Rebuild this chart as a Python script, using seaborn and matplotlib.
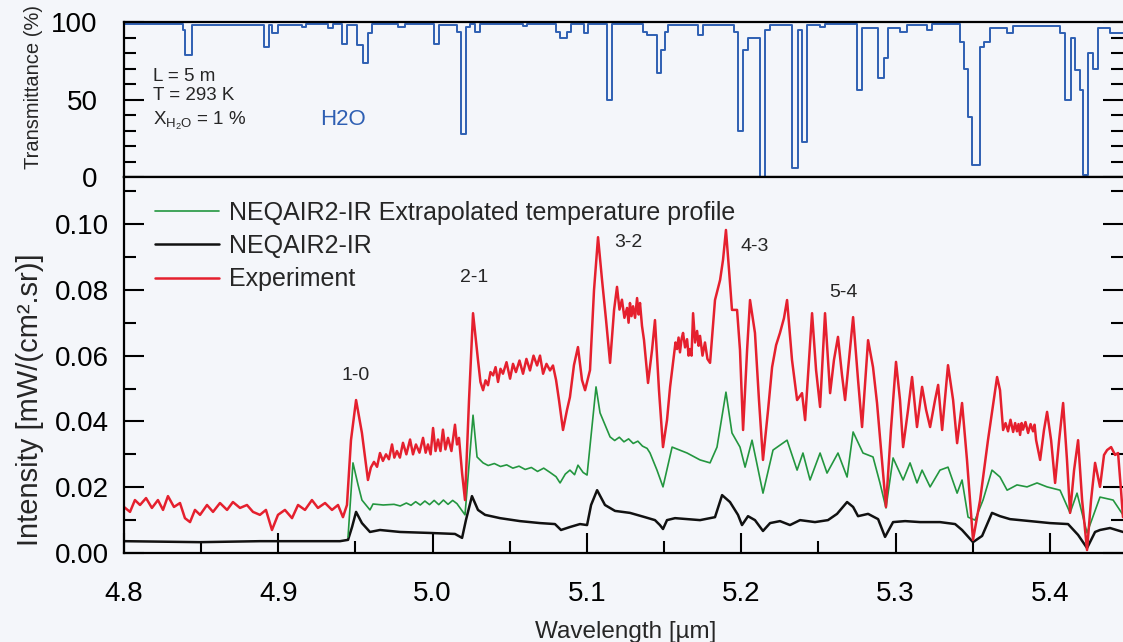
"""Emission spectrum of the CO fundamental band against H2O transmittance."""

import matplotlib

matplotlib.use("Agg")
import matplotlib.pyplot as plt
import pandas as pd
import seaborn as sns
from matplotlib.lines import Line2D
from matplotlib.ticker import FormatStrFormatter, MultipleLocator

# H2O transmittance, drawn as a step profile: left edge of each step [um], value [%]
h2o_wavelength = [
    4.8000, 4.8382, 4.8395, 4.8441, 4.8907, 4.8940, 4.8959, 4.8998, 4.9154, 4.9180,
    4.9322, 4.9355, 4.9413, 4.9445, 4.9510, 4.9549, 4.9581, 4.9607, 4.9776, 4.9821,
    5.0009, 5.0041, 5.0158, 5.0184, 5.0216, 5.0242, 5.0275, 5.0307, 5.0586, 5.0612,
    5.0800, 5.0826, 5.0871, 5.0897, 5.0981, 5.1007, 5.1130, 5.1163, 5.1364, 5.1390,
    5.1454, 5.1480, 5.1506, 5.1526, 5.1720, 5.1752, 5.1953, 5.1979, 5.2012, 5.2044,
    5.2122, 5.2154, 5.2187, 5.2329, 5.2368, 5.2394, 5.2426, 5.2511, 5.2543, 5.2750,
    5.2783, 5.2887, 5.2925, 5.2951, 5.3029, 5.3075, 5.3204, 5.3237, 5.3418, 5.3444,
    5.3470, 5.3496, 5.3548, 5.3574, 5.3612, 5.3723, 5.3762, 5.4066, 5.4099, 5.4137,
    5.4163, 5.4196, 5.4215, 5.4248, 5.4280, 5.4312, 5.4390, 5.4474,
]
h2o_transmittance = [
    98.5, 95, 79, 98, 84, 98, 93, 98, 97, 98.5,
    96, 98.5, 86, 98, 85, 73.5, 93, 98.5, 97, 98.5,
    86, 98, 93.5, 28, 97, 98.5, 93.5, 98.5, 97.5, 98.5,
    93.5, 89.7, 93.5, 98.5, 93, 98.5, 50, 98.5, 93.5, 91.6,
    67, 82, 93.5, 98, 91.6, 98, 93.5, 30, 82, 90,
    0, 95, 98, 6, 95, 22.6, 98, 97, 98.5, 56,
    96, 64, 77, 96, 93.5, 98, 95, 98.5, 87, 70,
    39, 7.7, 84, 87, 96, 93, 97.5, 93, 50, 90,
    69, 56, 1.3, 80, 70, 96, 93, 93,
]

# NEQAIR2-IR simulation [mW/(cm2.sr)]
neqair_wavelength = [
    4.8000, 4.8493, 4.8881, 4.9400, 4.9452, 4.9478, 4.9504, 4.9542, 4.9594, 4.9659,
    4.9789, 4.9983, 5.0145, 5.0191, 5.0216, 5.0255, 5.0294, 5.0340, 5.0437, 5.0566,
    5.0696, 5.0793, 5.0832, 5.0890, 5.0955, 5.1001, 5.1027, 5.1066, 5.1117, 5.1182,
    5.1279, 5.1376, 5.1441, 5.1473, 5.1493, 5.1519, 5.1571, 5.1733, 5.1830, 5.1876,
    5.1927, 5.1979, 5.2005, 5.2044, 5.2089, 5.2141, 5.2187, 5.2251, 5.2316, 5.2381,
    5.2478, 5.2562, 5.2621, 5.2686, 5.2725, 5.2757, 5.2822, 5.2887, 5.2932, 5.2984,
    5.3062, 5.3159, 5.3288, 5.3386, 5.3431, 5.3502, 5.3561, 5.3625, 5.3677, 5.3742,
    5.3872, 5.4001, 5.4118, 5.4183, 5.4241, 5.4293, 5.4325, 5.4390, 5.4474,
]
neqair_intensity = [
    0.0036, 0.0033, 0.0036, 0.0036, 0.0040, 0.0079, 0.0125, 0.0091, 0.0064, 0.0070,
    0.0064, 0.0061, 0.0058, 0.0046, 0.0100, 0.0173, 0.0131, 0.0116, 0.0106, 0.0097,
    0.0091, 0.0088, 0.0070, 0.0079, 0.0088, 0.0085, 0.0146, 0.0191, 0.0146, 0.0128,
    0.0122, 0.0109, 0.0100, 0.0085, 0.0073, 0.0100, 0.0106, 0.0100, 0.0109, 0.0176,
    0.0155, 0.0116, 0.0085, 0.0112, 0.0100, 0.0067, 0.0091, 0.0097, 0.0085, 0.0100,
    0.0094, 0.0100, 0.0119, 0.0155, 0.0140, 0.0112, 0.0119, 0.0103, 0.0049, 0.0094,
    0.0097, 0.0094, 0.0094, 0.0088, 0.0070, 0.0033, 0.0052, 0.0122, 0.0112, 0.0103,
    0.0097, 0.0091, 0.0088, 0.0055, 0.0015, 0.0064, 0.0070, 0.0076, 0.0064,
]

# NEQAIR2-IR with extrapolated temperature profile
extrap_wavelength = [
    4.9452, 4.9484, 4.9517, 4.9542, 4.9594, 4.9614, 4.9680, 4.9750, 4.9790, 4.9830,
    4.9860, 4.9890, 4.9920, 4.9950, 4.9980, 5.0010, 5.0040, 5.0070, 5.0100, 5.0130,
    5.0158, 5.0210, 5.0262, 5.0288, 5.0327, 5.0360, 5.0400, 5.0440, 5.0480, 5.0520,
    5.0560, 5.0600, 5.0640, 5.0680, 5.0720, 5.0761, 5.0800, 5.0826, 5.0860, 5.0890,
    5.0920, 5.0942, 5.0975, 5.1001, 5.1059, 5.1085, 5.1150, 5.1180, 5.1210, 5.1240,
    5.1270, 5.1300, 5.1330, 5.1360, 5.1390, 5.1409, 5.1454, 5.1493, 5.1552, 5.1649,
    5.1733, 5.1798, 5.1843, 5.1901, 5.1940, 5.1992, 5.2025, 5.2070, 5.2141, 5.2206,
    5.2297, 5.2362, 5.2400, 5.2446, 5.2511, 5.2556, 5.2627, 5.2686, 5.2725, 5.2789,
    5.2854, 5.2899, 5.2938, 5.2984, 5.3049, 5.3094, 5.3139, 5.3172, 5.3224, 5.3288,
    5.3340, 5.3399, 5.3431, 5.3470, 5.3515, 5.3567, 5.3625, 5.3677, 5.3723, 5.3787,
    5.3852, 5.3917, 5.3982, 5.4066, 5.4131, 5.4176, 5.4241, 5.4325, 5.4410, 5.4474,
]
extrap_intensity = [
    0.0049, 0.0274, 0.0207, 0.0161, 0.0131, 0.0149, 0.0146, 0.0148, 0.0143, 0.0152,
    0.0145, 0.0156, 0.0146, 0.0158, 0.0147, 0.0160, 0.0147, 0.0161, 0.0148, 0.0160,
    0.0150, 0.0116, 0.0419, 0.0292, 0.0274, 0.0266, 0.0272, 0.0263, 0.0268, 0.0258,
    0.0264, 0.0254, 0.0260, 0.0248, 0.0258, 0.0245, 0.0232, 0.0213, 0.0240, 0.0252,
    0.0238, 0.0267, 0.0245, 0.0237, 0.0505, 0.0426, 0.0353, 0.0342, 0.0352, 0.0338,
    0.0347, 0.0333, 0.0340, 0.0325, 0.0318, 0.0304, 0.0252, 0.0201, 0.0322, 0.0304,
    0.0283, 0.0274, 0.0322, 0.0489, 0.0365, 0.0322, 0.0261, 0.0343, 0.0182, 0.0313,
    0.0343, 0.0252, 0.0304, 0.0222, 0.0304, 0.0243, 0.0304, 0.0231, 0.0368, 0.0304,
    0.0292, 0.0213, 0.0137, 0.0289, 0.0222, 0.0274, 0.0213, 0.0252, 0.0201, 0.0252,
    0.0261, 0.0182, 0.0222, 0.0109, 0.0100, 0.0161, 0.0252, 0.0231, 0.0191, 0.0207,
    0.0201, 0.0213, 0.0201, 0.0191, 0.0122, 0.0182, 0.0061, 0.0170, 0.0161, 0.0116,
]

# Experiment
exp_wavelength = [
    4.8000, 4.8039, 4.8071, 4.8104, 4.8143, 4.8181, 4.8220, 4.8253, 4.8285, 4.8324,
    4.8363, 4.8395, 4.8428, 4.8460, 4.8493, 4.8538, 4.8577, 4.8622, 4.8668, 4.8706,
    4.8752, 4.8797, 4.8836, 4.8881, 4.8920, 4.8959, 4.8998, 4.9043, 4.9089, 4.9128,
    4.9173, 4.9218, 4.9257, 4.9303, 4.9348, 4.9387, 4.9419, 4.9445, 4.9471, 4.9504,
    4.9542, 4.9581, 4.9600, 4.9620, 4.9640, 4.9659, 4.9678, 4.9698, 4.9717, 4.9737,
    4.9752, 4.9769, 4.9788, 4.9808, 4.9830, 4.9854, 4.9873, 4.9892, 4.9915, 4.9938,
    4.9955, 4.9970, 4.9987, 5.0003, 5.0019, 5.0035, 5.0051, 5.0067, 5.0083, 5.0100,
    5.0122, 5.0145, 5.0158, 5.0171, 5.0191, 5.0210, 5.0236, 5.0262, 5.0294, 5.0310,
    5.0327, 5.0343, 5.0359, 5.0375, 5.0392, 5.0408, 5.0424, 5.0440, 5.0456, 5.0479,
    5.0502, 5.0521, 5.0540, 5.0563, 5.0586, 5.0608, 5.0631, 5.0654, 5.0677, 5.0696,
    5.0716, 5.0738, 5.0761, 5.0780, 5.0800, 5.0819, 5.0845, 5.0871, 5.0890, 5.0916,
    5.0942, 5.0968, 5.0988, 5.1020, 5.1046, 5.1072, 5.1098, 5.1124, 5.1150, 5.1176,
    5.1195, 5.1211, 5.1227, 5.1243, 5.1260, 5.1270, 5.1279, 5.1289, 5.1299, 5.1312,
    5.1325, 5.1335, 5.1344, 5.1357, 5.1370, 5.1396, 5.1422, 5.1441, 5.1467, 5.1493,
    5.1519, 5.1539, 5.1564, 5.1574, 5.1584, 5.1594, 5.1603, 5.1613, 5.1623, 5.1636,
    5.1649, 5.1659, 5.1668, 5.1678, 5.1688, 5.1701, 5.1714, 5.1724, 5.1733, 5.1749,
    5.1765, 5.1781, 5.1798, 5.1830, 5.1863, 5.1882, 5.1901, 5.1921, 5.1940, 5.1973,
    5.1992, 5.2012, 5.2038, 5.2057, 5.2089, 5.2115, 5.2141, 5.2174, 5.2200, 5.2226,
    5.2251, 5.2277, 5.2297, 5.2329, 5.2362, 5.2394, 5.2414, 5.2459, 5.2485, 5.2511,
    5.2543, 5.2576, 5.2601, 5.2627, 5.2653, 5.2673, 5.2725, 5.2757, 5.2783, 5.2822,
    5.2854, 5.2880, 5.2938, 5.2970, 5.3003, 5.3029, 5.3049, 5.3081, 5.3107, 5.3139,
    5.3172, 5.3198, 5.3224, 5.3256, 5.3276, 5.3302, 5.3340, 5.3373, 5.3399, 5.3431,
    5.3463, 5.3502, 5.3548, 5.3599, 5.3658, 5.3677, 5.3697, 5.3713, 5.3729, 5.3745,
    5.3762, 5.3775, 5.3787, 5.3797, 5.3807, 5.3817, 5.3826, 5.3842, 5.3859, 5.3875,
    5.3891, 5.3901, 5.3911, 5.3937, 5.3962, 5.3982, 5.4008, 5.4034, 5.4060, 5.4086,
    5.4111, 5.4131, 5.4157, 5.4183, 5.4209, 5.4241, 5.4267, 5.4293, 5.4325, 5.4351,
    5.4371, 5.4397, 5.4423, 5.4442, 5.4461, 5.4474,
]
exp_intensity = [
    0.0140, 0.0125, 0.0161, 0.0146, 0.0167, 0.0137, 0.0161, 0.0131, 0.0173, 0.0140,
    0.0152, 0.0106, 0.0094, 0.0131, 0.0116, 0.0146, 0.0125, 0.0152, 0.0131, 0.0155,
    0.0137, 0.0146, 0.0125, 0.0116, 0.0131, 0.0070, 0.0116, 0.0131, 0.0106, 0.0146,
    0.0131, 0.0161, 0.0137, 0.0152, 0.0131, 0.0146, 0.0109, 0.0146, 0.0343, 0.0465,
    0.0365, 0.0222, 0.0260, 0.0277, 0.0262, 0.0304, 0.0280, 0.0300, 0.0285, 0.0330,
    0.0290, 0.0310, 0.0290, 0.0335, 0.0300, 0.0345, 0.0300, 0.0330, 0.0305, 0.0350,
    0.0305, 0.0330, 0.0300, 0.0380, 0.0310, 0.0345, 0.0310, 0.0375, 0.0315, 0.0350,
    0.0310, 0.0390, 0.0330, 0.0350, 0.0243, 0.0161, 0.0465, 0.0729, 0.0587, 0.0520,
    0.0495, 0.0525, 0.0510, 0.0550, 0.0540, 0.0565, 0.0520, 0.0560, 0.0545, 0.0580,
    0.0530, 0.0575, 0.0550, 0.0585, 0.0545, 0.0590, 0.0555, 0.0600, 0.0570, 0.0600,
    0.0545, 0.0575, 0.0555, 0.0570, 0.0526, 0.0465, 0.0374, 0.0435, 0.0474, 0.0571,
    0.0626, 0.0526, 0.0495, 0.0556, 0.0799, 0.0960, 0.0830, 0.0708, 0.0578, 0.0739,
    0.0809, 0.0740, 0.0770, 0.0715, 0.0745, 0.0700, 0.0760, 0.0720, 0.0750, 0.0715,
    0.0775, 0.0725, 0.0760, 0.0690, 0.0647, 0.0517, 0.0617, 0.0708, 0.0495, 0.0322,
    0.0404, 0.0505, 0.0602, 0.0640, 0.0620, 0.0655, 0.0610, 0.0650, 0.0669, 0.0625,
    0.0650, 0.0600, 0.0620, 0.0600, 0.0729, 0.0640, 0.0675, 0.0630, 0.0660, 0.0600,
    0.0640, 0.0590, 0.0578, 0.0769, 0.0830, 0.0891, 0.0982, 0.0860, 0.0739, 0.0739,
    0.0617, 0.0374, 0.0617, 0.0769, 0.0669, 0.0465, 0.0283, 0.0435, 0.0565, 0.0632,
    0.0669, 0.0714, 0.0769, 0.0587, 0.0465, 0.0486, 0.0404, 0.0729, 0.0556, 0.0444,
    0.0729, 0.0486, 0.0587, 0.0657, 0.0541, 0.0465, 0.0717, 0.0526, 0.0383, 0.0647,
    0.0565, 0.0456, 0.0140, 0.0374, 0.0581, 0.0465, 0.0322, 0.0435, 0.0535, 0.0383,
    0.0505, 0.0435, 0.0383, 0.0465, 0.0511, 0.0374, 0.0571, 0.0465, 0.0334, 0.0456,
    0.0283, 0.0040, 0.0161, 0.0343, 0.0535, 0.0495, 0.0374, 0.0395, 0.0370, 0.0405,
    0.0368, 0.0395, 0.0370, 0.0392, 0.0359, 0.0395, 0.0375, 0.0398, 0.0365, 0.0392,
    0.0370, 0.0390, 0.0343, 0.0283, 0.0374, 0.0429, 0.0343, 0.0213, 0.0343, 0.0456,
    0.0283, 0.0122, 0.0252, 0.0343, 0.0161, 0.0009, 0.0161, 0.0274, 0.0201, 0.0298,
    0.0313, 0.0322, 0.0298, 0.0304, 0.0191, 0.0109,
]

band_labels = ["1-0", "2-1", "3-2", "4-3", "5-4"]
band_label_x = [4.9504, 5.0272, 5.1266, 5.2089, 5.2660]
band_label_y = [0.0541, 0.0836, 0.0944, 0.0933, 0.0792]

PAPER = "#f4f6fa"
RED = "#e5202e"
GREEN = "#23963f"
BLACK = "#111111"
BLUE = "#2e5fb3"
X_RANGE = (4.8, 5.4474)


def _style_axes(ax):
    ax.set_facecolor(PAPER)
    for side in ("left", "top", "bottom"):
        ax.spines[side].set_linewidth(1.6)
        ax.spines[side].set_color("black")
    ax.spines["right"].set_visible(False)
    ax.tick_params(which="both", direction="in", width=1.5, colors="black",
                   labelsize=20, right=True)
    ax.tick_params(which="major", length=14.5)
    ax.tick_params(which="minor", length=8.5)
    ax.set_xlim(*X_RANGE)


def main():
    sns.set_style("ticks")
    plt.rcParams["font.family"] = ["Liberation Sans", "DejaVu Sans"]
    plt.rcParams["mathtext.fontset"] = "custom"
    plt.rcParams["mathtext.rm"] = "Liberation Sans"
    plt.rcParams["mathtext.it"] = "Liberation Sans:italic"

    fig = plt.figure(figsize=(11.23, 6.42), dpi=100, facecolor=PAPER)
    ax_top = fig.add_axes([0.1104, 0.7243, 0.8896, 0.2414])
    ax_bot = fig.add_axes([0.1104, 0.1386, 0.8896, 0.5857])

    # --- top panel: H2O transmittance
    h2o = pd.DataFrame({"wl": h2o_wavelength, "T": h2o_transmittance})
    sns.lineplot(data=h2o, x="wl", y="T", ax=ax_top, color=BLUE, lw=1.4,
                 drawstyle="steps-post", estimator=None)
    _style_axes(ax_top)
    ax_top.set_ylim(0, 100)
    ax_top.yaxis.set_major_locator(MultipleLocator(50))
    ax_top.yaxis.set_minor_locator(MultipleLocator(10))
    ax_top.yaxis.set_major_formatter(FormatStrFormatter("%d"))
    ax_top.tick_params(axis="y", pad=19)
    ax_top.tick_params(axis="x", which="both", bottom=False, top=False,
                       labelbottom=False)
    ax_top.set_xlabel("")
    ax_top.set_ylabel("Transmittance (%)", fontsize=14.5)
    ax_top.yaxis.set_label_coords(-0.081, 0.58)

    ax_top.text(4.8188, 62, "L = 5 m", fontsize=13.5, va="baseline")
    ax_top.text(4.8188, 49.5, "T = 293 K", fontsize=13.5, va="baseline")
    ax_top.text(4.8188, 33.5, r"X$_{\mathrm{H_2O}}$ = 1 %", fontsize=13.5,
                va="baseline")
    ax_top.text(4.927, 33.5, "H2O", fontsize=16, color=BLUE, va="baseline")

    # --- bottom panel: spectra
    series = [
        (neqair_wavelength, neqair_intensity, BLACK, 1.8),
        (extrap_wavelength, extrap_intensity, GREEN, 1.2),
        (exp_wavelength, exp_intensity, RED, 1.8),
    ]
    for wl, inten, color, lw in series:
        df = pd.DataFrame({"wl": wl, "I": inten})
        sns.lineplot(data=df, x="wl", y="I", ax=ax_bot, color=color, lw=lw,
                     estimator=None)

    _style_axes(ax_bot)
    ax_bot.set_ylim(0, 0.1143)
    ax_bot.xaxis.set_major_locator(MultipleLocator(0.1))
    ax_bot.xaxis.set_minor_locator(MultipleLocator(0.05))
    ax_bot.yaxis.set_major_locator(MultipleLocator(0.02))
    ax_bot.yaxis.set_minor_locator(MultipleLocator(0.01))
    ax_bot.xaxis.set_major_formatter(FormatStrFormatter("%.1f"))
    ax_bot.yaxis.set_major_formatter(FormatStrFormatter("%.2f"))
    ax_bot.tick_params(axis="y", pad=11)
    ax_bot.tick_params(axis="x", pad=20)
    ax_bot.set_xlabel("Wavelength [\u00b5m]", fontsize=17.5)
    ax_bot.xaxis.set_label_coords(0.5025, -0.18)
    ax_bot.set_ylabel("Intensity [mW/(cm\u00b2.sr)]", fontsize=21)
    ax_bot.yaxis.set_label_coords(-0.080, 0.407)

    for text, x, y in zip(band_labels, band_label_x, band_label_y):
        ax_bot.text(x, y, text, fontsize=14, ha="center", va="center")

    handles = [
        Line2D([], [], color=GREEN, lw=1.2),
        Line2D([], [], color=BLACK, lw=1.8),
        Line2D([], [], color=RED, lw=1.8),
    ]
    labels = ["NEQAIR2-IR Extrapolated temperature profile", "NEQAIR2-IR", "Experiment"]
    ax_bot.legend(handles, labels, loc="upper left", bbox_to_anchor=(0.031, 0.9375),
                  frameon=False, fontsize=18, handlelength=2.55, handletextpad=0.4,
                  labelspacing=0.375, borderpad=0, borderaxespad=0)

    fig.savefig("out.png", dpi=100, facecolor=PAPER)
    plt.close(fig)


if __name__ == "__main__":
    main()
